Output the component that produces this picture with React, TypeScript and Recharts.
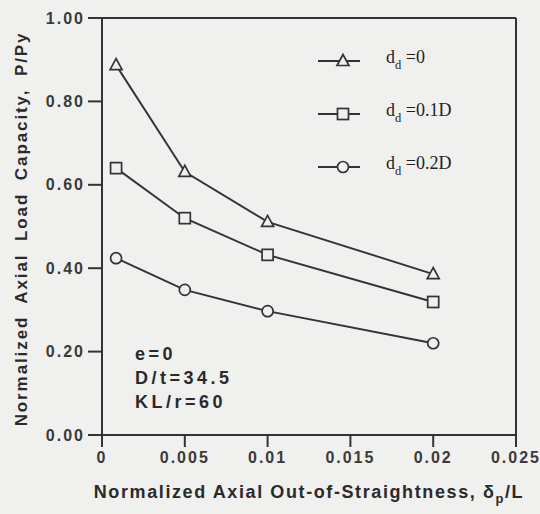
import React from 'react';
import { LineChart, Line, XAxis, YAxis, ReferenceLine, Legend } from 'recharts';

const xValues = [0.00085, 0.005, 0.01, 0.02];
const dd0 = [0.887, 0.631, 0.511, 0.386];
const dd01 = [0.64, 0.52, 0.432, 0.319];
const dd02 = [0.424, 0.348, 0.297, 0.22];
const xTicks = [0, 0.005, 0.01, 0.015, 0.02, 0.025];
const yTicks = [0, 0.2, 0.4, 0.6, 0.8, 1.0];
const seriesLabels = ['=0', '=0.1D', '=0.2D'];
const seriesKeys = ['dd0', 'dd01', 'dd02'];
const seriesShapes = ['triangle', 'square', 'circle'];
const annotation = ['e=0', 'D/t=34.5', 'KL/r=60'];

const data = xValues.map((x, i) => ({ x, dd0: dd0[i], dd01: dd01[i], dd02: dd02[i] }));

const BG = '#f0f0ee';
const INK = '#333';

function Marker({ shape, cx, cy }: { shape: string; cx: number; cy: number }) {
  if (shape === 'triangle') {
    return (
      <polygon
        points={`${cx},${cy - 6.5} ${cx - 6},${cy + 4.5} ${cx + 6},${cy + 4.5}`}
        fill={BG}
        stroke={INK}
        strokeWidth={1.7}
      />
    );
  }
  if (shape === 'square') {
    return <rect x={cx - 5.5} y={cy - 5.5} width={11} height={11} fill={BG} stroke={INK} strokeWidth={1.7} />;
  }
  return <circle cx={cx} cy={cy} r={5.5} fill={BG} stroke={INK} strokeWidth={1.7} />;
}

const makeDot = (shape: string) => (props: any) => {
  const { cx, cy, index } = props;
  if (cx == null || cy == null) return <g key={index} />;
  return <Marker key={index} shape={shape} cx={cx} cy={cy} />;
};

const LegendContent = () => (
  <div style={{ fontFamily: '"Liberation Serif", "DejaVu Serif", serif', color: '#222' }}>
    {seriesKeys.map((k, i) => (
      <div key={k} style={{ display: 'flex', alignItems: 'center', height: 53 }}>
        <svg width={46} height={16} style={{ overflow: 'visible' }}>
          <line x1={2} y1={8} x2={44} y2={8} stroke={INK} strokeWidth={1.9} />
          <Marker shape={seriesShapes[i]} cx={27} cy={8} />
        </svg>
        <span style={{ marginLeft: 24, fontSize: 18, lineHeight: '18px' }}>
          d<sub style={{ fontSize: 12.5, verticalAlign: -6 }}>d</sub> {seriesLabels[i]}
        </span>
      </div>
    ))}
  </div>
);

const YTitle = () => (
  <text
    x={21}
    y={229}
    transform="rotate(-90, 21, 229)"
    textAnchor="middle"
    dominantBaseline="central"
    fontFamily='"Liberation Sans", Arial, sans-serif'
    fontWeight={700}
    fontSize={17}
    letterSpacing={1.9}
    wordSpacing={6}
    fill="#2a2a2a"
  >
    Normalized Axial Load Capacity, P/Py
  </text>
);

const XTitle = () => (
  <text
    x={309}
    y={498}
    textAnchor="middle"
    fontFamily='"Liberation Sans", Arial, sans-serif'
    fontWeight={700}
    fontSize={18}
    letterSpacing={1.6}
    fill="#2a2a2a"
  >
    Normalized Axial Out-of-Straightness, δ
    <tspan dy={5} fontSize={13}>p</tspan>
    <tspan dy={-5}>/L</tspan>
  </text>
);

const tickStyle = {
  fontFamily: '"Liberation Sans", Arial, sans-serif',
  fontWeight: 700,
  fontSize: 16,
  fill: '#3a3a3a',
  letterSpacing: 2,
};

export default function App() {
  return (
    <div style={{ position: 'absolute', left: 0, top: 0, width: 540, height: 514, background: BG }}>
      <LineChart width={540} height={514} data={data} margin={{ top: 18, right: 24, bottom: 0, left: 0 }}>
        <XAxis
          type="number"
          dataKey="x"
          domain={[0, 0.025]}
          ticks={xTicks}
          tickFormatter={(v: number) => (v === 0 ? '0' : String(v))}
          height={79}
          tickSize={12}
          tickMargin={5}
          stroke={INK}
          strokeWidth={2}
          tick={tickStyle}
          label={<XTitle />}
          allowDataOverflow
        />
        <YAxis
          type="number"
          domain={[0, 1]}
          ticks={yTicks}
          tickFormatter={(v: number) => v.toFixed(2)}
          width={102}
          tickSize={14}
          tickMargin={3}
          stroke={INK}
          strokeWidth={2}
          tick={tickStyle}
          label={<YTitle />}
        />
        <ReferenceLine y={1} stroke={INK} strokeWidth={2} />
        <ReferenceLine x={0.025} stroke={INK} strokeWidth={2} />
        {seriesKeys.map((k, i) => (
          <Line
            key={k}
            dataKey={k}
            stroke={INK}
            strokeWidth={1.9}
            dot={makeDot(seriesShapes[i])}
            activeDot={false}
            isAnimationActive={false}
            legendType="none"
          />
        ))}
        <Legend
          layout="vertical"
          align="center"
          verticalAlign="middle"
          content={<LegendContent />}
          wrapperStyle={{ left: 316, top: 34, width: 170, height: 160 }}
        />
      </LineChart>
      <div
        style={{
          position: 'absolute',
          left: 135,
          top: 342,
          fontFamily: '"Liberation Sans", Arial, sans-serif',
          fontWeight: 700,
          fontSize: 18,
          letterSpacing: 3.5,
          lineHeight: '24px',
          color: '#2a2a2a',
        }}
      >
        {annotation.map((t) => (
          <div key={t}>{t}</div>
        ))}
      </div>
    </div>
  );
}
